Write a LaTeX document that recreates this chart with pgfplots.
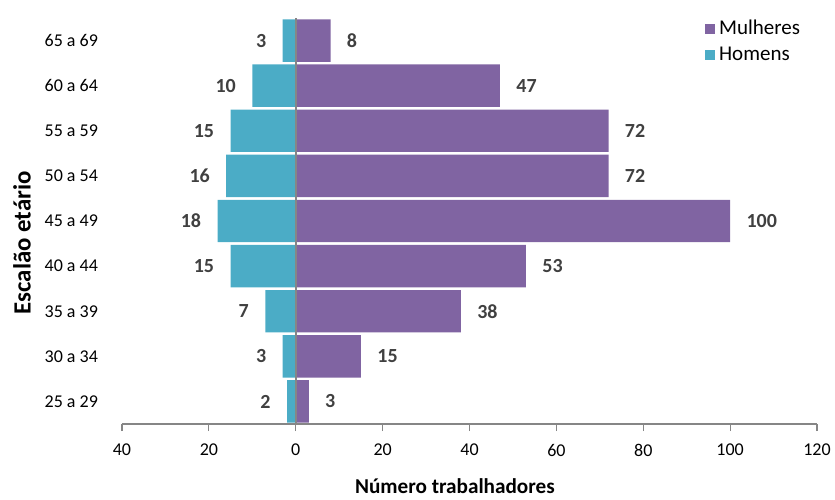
\documentclass[border=0pt]{standalone}
\usepackage{fontspec}
\setmainfont{Carlito}
\usepackage{pgfplots}
\usepackage{pgfplotstable}
\pgfplotsset{compat=1.18}
\definecolor{mulh}{HTML}{8064A2}
\definecolor{hom}{HTML}{4BACC6}
\definecolor{lbl}{HTML}{404040}
\definecolor{axgray}{HTML}{868686}
\pgfplotstableread{
c h hl m ml
0 -2 2 3 3
1 -3 3 15 15
2 -7 7 38 38
3 -15 15 53 53
4 -18 18 100 100
5 -16 16 72 72
6 -15 15 72 72
7 -10 10 47 47
8 -3 3 8 8
}\data
\begin{document}
\begin{tikzpicture}
\begin{axis}[
  name=ax,
  scale only axis,
  width=347.5pt, height=203pt,
  xmin=-40, xmax=120, ymin=-0.5, ymax=8.5,
  xbar, bar width=0.94, bar shift=0pt,
  axis x line*=bottom, axis y line*=left,
  y axis line style={draw=none},
  x axis line style={axgray, line width=0.6pt},
  xtick={-40,-20,0,20,40,60,80,100,120},
  xticklabels={40,20,0,20,40,60,80,100,120},
  xtick style={axgray, line width=0.6pt},
  tick align=outside, major tick length=3.5pt,
  ytick={0,...,8},
  yticklabels={25 a 29,30 a 34,35 a 39,40 a 44,45 a 49,50 a 54,55 a 59,60 a 64,65 a 69},
  ytick style={draw=none},
  tick label style={font=\fontsize{9}{10}\selectfont, text=black},
  xticklabel style={yshift=-3pt},
  yticklabel style={xshift=-5pt},
  /pgf/number format/assume math mode=true,
  xlabel={\bfseries Número trabalhadores},
  ylabel={\bfseries Escalão etário},
  xlabel style={at={(axis description cs:0.479,-0.153)}, anchor=center, font=\fontsize{10.6}{12}\selectfont},
  ylabel style={at={(axis description cs:-0.1439,0.446)}, anchor=center, font=\fontsize{12.4}{14}\selectfont},
  legend style={draw=none, fill=none, at={(axis description cs:0.835,1.01)}, anchor=north west,
    font=\fontsize{10.5}{12}\selectfont, row sep=0.5pt, inner sep=1pt},
  legend cell align=left,
  legend image code/.code={\fill[#1] (0pt,-2.6pt) rectangle (5.2pt,2.6pt);},
  nodes near coords,
  point meta=explicit,
  every node near coord/.append style={font=\fontsize{10}{12}\selectfont\bfseries, text=lbl},
  clip=false,
]
\addplot[fill=mulh, draw=none,
  nodes near coords style={anchor=west, xshift=4.7pt}]
  table[x=m, y=c, meta=ml]{\data};
\addlegendentry{Mulheres}
\addplot[fill=hom, draw=none,
  nodes near coords style={anchor=east, xshift=-4.7pt}]
  table[x=h, y=c, meta=hl]{\data};
\addlegendentry{Homens}
\draw[axgray, line width=0.8pt] (axis cs:0,-0.5) -- (axis cs:0,8.5);
\end{axis}
\pgfresetboundingbox
\path ([xshift=-61pt,yshift=-37.5pt]ax.south west) rectangle ([xshift=9pt,yshift=9pt]ax.north east);
\end{tikzpicture}
\end{document}
